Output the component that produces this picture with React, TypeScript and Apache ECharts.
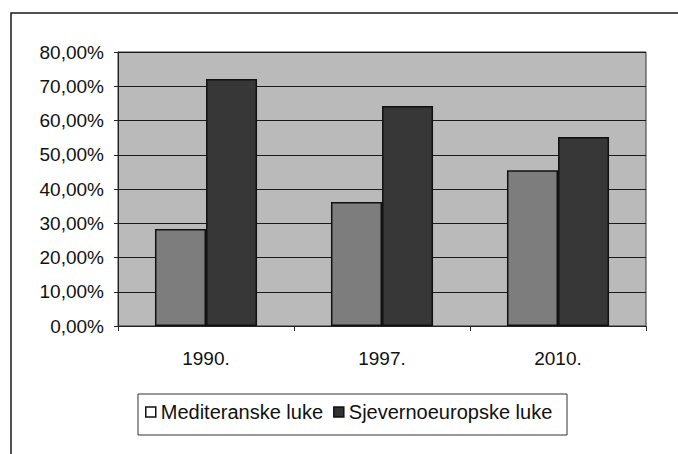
import React, { useEffect, useRef } from "react";
import * as echarts from "echarts";

const categories = ["1990.", "1997.", "2010."];
const seriesNames = ["Mediteranske luke", "Sjevernoeuropske luke"];
const mediteranske = [0.283, 0.362, 0.455];
const sjevernoeuropske = [0.721, 0.642, 0.552];

const FONT = "Arial, 'Liberation Sans', sans-serif";

export default function App() {
  const ref = useRef<HTMLDivElement>(null);
  useEffect(() => {
    if (!ref.current) return;
    const chart = echarts.init(ref.current, null, { renderer: "svg" });
    chart.setOption({
      animation: false,
      backgroundColor: "#ffffff",
      textStyle: { fontFamily: FONT },
      grid: {
        left: 118,
        top: 52,
        width: 528,
        height: 274,
        show: true,
        backgroundColor: "#bababa",
        borderColor: "#333",
        borderWidth: 1,
      },
      graphic: [
        {
          type: "rect",
          shape: { x: 11, y: 13, width: 700, height: 460 },
          style: { fill: "none", stroke: "#1a1a1a", lineWidth: 1.5 },
          z: 100,
        },
        {
          type: "rect",
          shape: { x: 138, y: 394, width: 429, height: 41 },
          style: { fill: "none", stroke: "#333", lineWidth: 1 },
          z: 100,
        },
      ],
      legend: {
        left: 145,
        top: 402,
        itemWidth: 10,
        itemHeight: 10,
        itemGap: 10,
        padding: 0,
        textStyle: { fontSize: 20, lineHeight: 20, color: "#111", fontFamily: FONT },
        data: [
          {
            name: seriesNames[0],
            icon: "rect",
            itemStyle: { color: "#ffffff", borderColor: "#111", borderWidth: 1.5 },
          },
          {
            name: seriesNames[1],
            icon: "rect",
            itemStyle: { color: "#333", borderColor: "#111", borderWidth: 1.5 },
          },
        ],
      },
      xAxis: {
        type: "category",
        data: categories,
        axisLine: { lineStyle: { color: "#222", width: 1 } },
        axisTick: { show: true, length: 5, lineStyle: { color: "#222" } },
        axisLabel: { fontSize: 19, color: "#111", margin: 23, fontFamily: FONT },
      },
      yAxis: {
        type: "value",
        min: 0,
        max: 0.8,
        interval: 0.1,
        axisLine: { show: true, lineStyle: { color: "#222", width: 1 } },
        axisTick: { show: true, length: 4, lineStyle: { color: "#222" } },
        axisLabel: {
          fontSize: 19,
          color: "#111",
          margin: 14,
          fontFamily: FONT,
          formatter: (v: number) => (v * 100).toFixed(2).replace(".", ",") + "%",
        },
        splitLine: { show: true, lineStyle: { color: "#1a1a1a", width: 1.2 } },
      },
      series: [
        {
          name: seriesNames[0],
          type: "bar",
          data: mediteranske,
          barWidth: "29%",
          barGap: "0%",
          itemStyle: { color: "#7d7d7d", borderColor: "#111", borderWidth: 1.5 },
        },
        {
          name: seriesNames[1],
          type: "bar",
          data: sjevernoeuropske,
          barWidth: "29%",
          itemStyle: { color: "#373737", borderColor: "#111", borderWidth: 1.5 },
        },
      ],
    });
    return () => chart.dispose();
  }, []);
  return (
    <div
      ref={ref}
      style={{ position: "absolute", left: 0, top: 0, width: 678, height: 454 }}
    />
  );
}
